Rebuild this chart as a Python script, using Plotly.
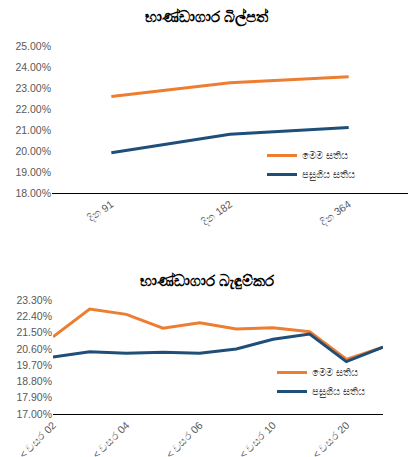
import plotly.graph_objects as go

# ---- data ----
bill_categories = ["දින 91", "දින 182", "දින 364"]
bill_this_week = [22.62, 23.28, 23.56]
bill_last_week = [19.94, 20.82, 21.14]

bond_categories = ["< වසර 02", "< වසර 03", "< වසර 04", "< වසර 05", "< වසර 06",
                   "< වසර 08", "< වසර 10", "< වසර 15", "< වසර 20", "< වසර 30"]
bond_labels_shown = ["< වසර 02", "< වසර 04", "< වසර 06", "< වසර 10", "< වසර 20"]
bond_this_week = [21.28, 22.82, 22.52, 21.75, 22.06, 21.71, 21.78, 21.56, 20.03, 20.70]
bond_last_week = [20.16, 20.45, 20.36, 20.42, 20.36, 20.60, 21.14, 21.43, 19.90, 20.70]

bill_yticks = [18, 19, 20, 21, 22, 23, 24, 25]
bill_yticktext = ["18.00%", "19.00%", "20.00%", "21.00%", "22.00%", "23.00%", "24.00%", "25.00%"]
bond_yticks = [17.0, 17.9, 18.8, 19.7, 20.6, 21.5, 22.4, 23.3]
bond_yticktext = ["17.00%", "17.90%", "18.80%", "19.70%", "20.60%", "21.50%", "22.40%", "23.30%"]

series_names = ["මෙම සතිය", "පසුගිය සතිය"]
ORANGE = "#ED7D31"
BLUE = "#1F4E79"
W, H = 414, 457
FONT = "Liberation Sans"
GREY = "#595959"

fig = go.Figure()
fig.add_trace(go.Scatter(x=bill_categories, y=bill_this_week, mode="lines", name=series_names[0],
                         line=dict(color=ORANGE, width=3), xaxis="x", yaxis="y", legend="legend"))
fig.add_trace(go.Scatter(x=bill_categories, y=bill_last_week, mode="lines", name=series_names[1],
                         line=dict(color=BLUE, width=3), xaxis="x", yaxis="y", legend="legend"))
fig.add_trace(go.Scatter(x=bond_categories, y=bond_this_week, mode="lines", name=series_names[0],
                         line=dict(color=ORANGE, width=3), xaxis="x2", yaxis="y2", legend="legend2"))
fig.add_trace(go.Scatter(x=bond_categories, y=bond_last_week, mode="lines", name=series_names[1],
                         line=dict(color=BLUE, width=3), xaxis="x2", yaxis="y2", legend="legend2"))

def py(p):
    return 1 - p / H

def px(p):
    return p / W

axis_common = dict(showgrid=False, zeroline=False, automargin=False,
                   tickfont=dict(family=FONT, size=10.5, color=GREY), ticks="")

fig.update_layout(
    width=W, height=H,
    margin=dict(l=0, r=0, t=0, b=0),
    paper_bgcolor="white", plot_bgcolor="white",
    font=dict(family=FONT),
    xaxis=dict(domain=[px(52), px(408)], anchor="y", type="category",
               range=[-0.5, 2.5], showline=True, linecolor="black", linewidth=1,
               tickangle=-35, **axis_common),
    yaxis=dict(domain=[py(193.3), py(46.7)], anchor="x", range=[18, 25],
               tickmode="array", tickvals=bill_yticks, ticktext=bill_yticktext,
               showline=False, **axis_common),
    xaxis2=dict(domain=[px(53), px(383)], anchor="y2", type="category",
                range=[0, 9], showline=True, linecolor="black", linewidth=1,
                tickmode="array", tickvals=bond_labels_shown, ticktext=bond_labels_shown,
                tickangle=-45, **axis_common),
    yaxis2=dict(domain=[py(414), py(300.3)], anchor="x2", range=[17, 23.3],
                tickmode="array", tickvals=bond_yticks, ticktext=bond_yticktext,
                showline=False, **axis_common),
    legend=dict(x=px(262), y=py(141), xanchor="left", yanchor="top",
                bgcolor="rgba(0,0,0,0)", font=dict(family=FONT, size=10, color="#404040"),
                tracegroupgap=0, itemwidth=30),
    legend2=dict(x=px(272), y=py(358), xanchor="left", yanchor="top",
                 bgcolor="rgba(0,0,0,0)", font=dict(family=FONT, size=10, color="#404040"),
                 tracegroupgap=0, itemwidth=30),
    annotations=[
        dict(text="<b>භාණ්ඩාගාර බිල්පත්</b>", x=0.5, y=py(18), xref="paper", yref="paper",
             showarrow=False, xanchor="center", yanchor="middle",
             font=dict(family=FONT, size=15, color="black")),
        dict(text="<b>භාණ්ඩාගාර බැඳුම්කර</b>", x=0.5, y=py(281), xref="paper", yref="paper",
             showarrow=False, xanchor="center", yanchor="middle",
             font=dict(family=FONT, size=15, color="black")),
    ],
)

fig.write_html("out.html", config={"displayModeBar": False},
               post_script="document.body.style.margin='0';document.body.style.padding='0';")
